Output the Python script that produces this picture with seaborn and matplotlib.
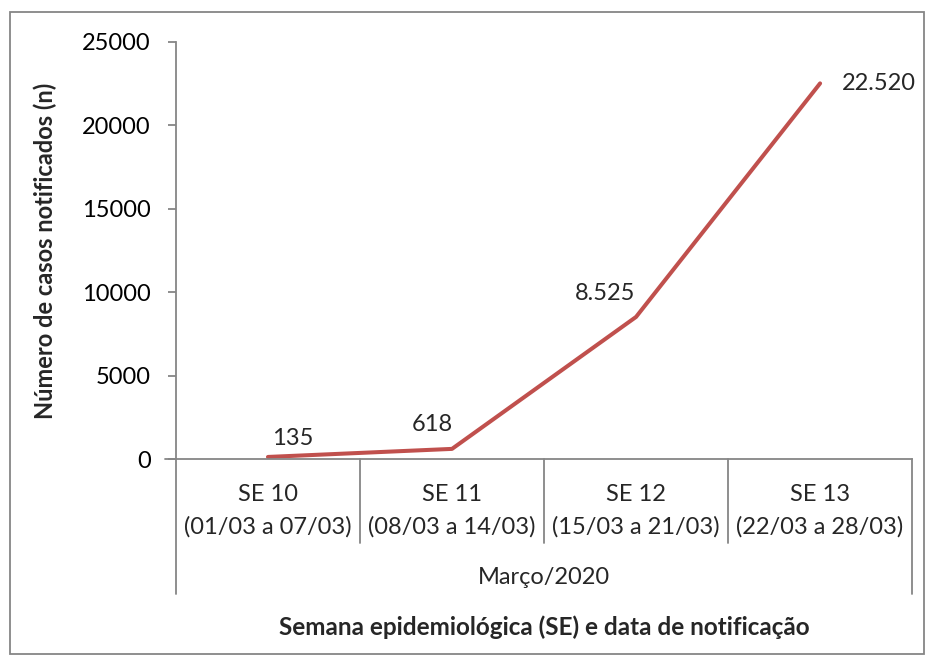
import matplotlib.pyplot as plt
import matplotlib.transforms as mtransforms
from matplotlib.patches import Rectangle
import seaborn as sns
import pandas as pd

semanas = ["SE 10", "SE 11", "SE 12", "SE 13"]
datas = ["(01/03 a 07/03)", "(08/03 a 14/03)", "(15/03 a 21/03)", "(22/03 a 28/03)"]
casos = [135, 618, 8525, 22520]
rotulos = ["135", "618", "8.525", "22.520"]
yticks = [0, 5000, 10000, 15000, 20000, 25000]

df = pd.DataFrame({"pos": range(len(semanas)), "casos": casos})

sns.set_theme(style="white")
plt.rcParams["font.family"] = ["Lato", "DejaVu Sans"]
fs = 17

fig = plt.figure(figsize=(9.26, 6.56), dpi=100)
ax = fig.add_axes([0.190, 0.300, 0.795, 0.636])

sns.lineplot(data=df, x="pos", y="casos", color="#C0504D", linewidth=2.9, ax=ax)

ax.set_xlim(-0.5, 3.5)
ax.set_ylim(0, 25000)
ax.set_yticks(yticks)
ax.set_yticklabels([str(t) for t in yticks], fontsize=fs)
ax.set_xticks([])
ax.set_xlabel("")
ax.set_ylabel("Número de casos notificados (n)", fontsize=fs, fontweight="bold")
ax.yaxis.set_label_coords(-0.162, 0.5)

for s in ["top", "right"]:
    ax.spines[s].set_visible(False)
for s in ["left", "bottom"]:
    ax.spines[s].set_color("#868686")
    ax.spines[s].set_linewidth(1.3)
ax.tick_params(axis="y", which="major", left=True, length=6, width=1.3,
               color="#868686", pad=12, labelcolor="black")

# data labels
offsets = [(18, 6), (-14, 10), (-22, 9), (42, 0)]
for i, (v, t) in enumerate(zip(casos, rotulos)):
    dx, dy = offsets[i]
    ax.annotate(t, (i, v), xytext=(dx, dy), textcoords="offset points",
                ha="center", va="bottom" if dy else "center", fontsize=fs)

# category separators and labels
trans = mtransforms.blended_transform_factory(ax.transData, ax.transAxes)
for k in range(len(semanas) + 1):
    x = k - 0.5
    y0 = -0.324 if k in (0, len(semanas)) else -0.201
    ax.plot([x, x], [0, y0], color="#868686", lw=1.3, transform=trans, clip_on=False)
ax.plot([-0.56, -0.5], [0, 0], color="#868686", lw=1.3, transform=trans, clip_on=False)

for i, (s, d) in enumerate(zip(semanas, datas)):
    ax.text(i, -0.084, s, transform=trans, ha="center", va="center", fontsize=fs)
    ax.text(i, -0.163, d, transform=trans, ha="center", va="center", fontsize=fs)

ax.text(0.5, -0.283, "Março/2020", transform=ax.transAxes, ha="center", va="center", fontsize=fs)
ax.text(0.5, -0.403, "Semana epidemiológica (SE) e data de notificação",
        transform=ax.transAxes, ha="center", va="center", fontsize=fs + 0.5, fontweight="bold")

fig.patches.append(Rectangle((10 / 926, 2 / 656), 914 / 926, 642 / 656,
                             transform=fig.transFigure, fill=False,
                             edgecolor="#868686", linewidth=1.3))

fig.savefig("out.png", dpi=100)
